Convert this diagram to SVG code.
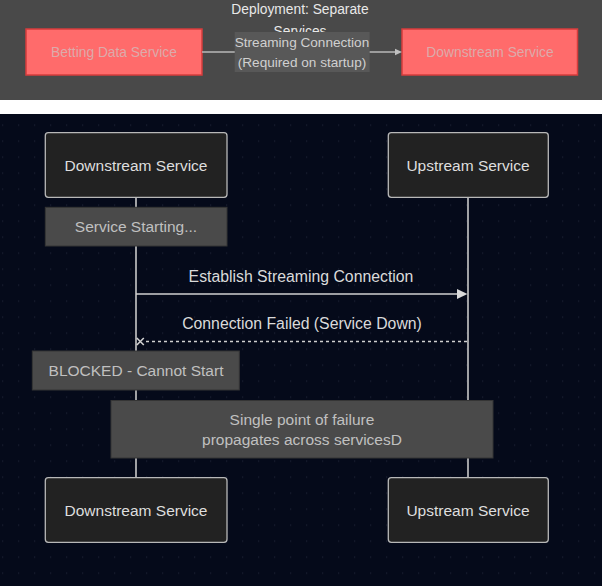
<svg xmlns="http://www.w3.org/2000/svg" width="602" height="586" viewBox="0 0 602 586">
  <defs>
    <style>
      .panel { fill: #494949; }
      .svc { fill: #ff6b6b; stroke: #d63c3c; stroke-width: 1.5; }
      .svc-t { font-family: "Liberation Sans", Arial, sans-serif; font-size: 13.8px; fill: #dcaaaa; text-anchor: middle; }
      .title { font-family: "Liberation Sans", Arial, sans-serif; font-size: 13.8px; fill: #e8e8e8; text-anchor: middle; }
      .elabel-bg { fill: #585858; }
      .elabel { font-family: "Liberation Sans", Arial, sans-serif; font-size: 13.6px; fill: #d0d0d0; text-anchor: middle; }
      .edge { stroke: #b8b8b8; stroke-width: 1.5; fill: none; }
      .actor { fill: #222222; stroke: #b8b8b8; stroke-width: 1.3; }
      .actor-t { font-family: "Liberation Sans", Arial, sans-serif; font-size: 15.5px; fill: #dedede; text-anchor: middle; }
      .note { fill: #4a4a4a; stroke: #353535; stroke-width: 1; }
      .note-t { font-family: "Liberation Sans", Arial, sans-serif; font-size: 15.5px; fill: #c0c0c0; text-anchor: middle; }
      .msg-t { font-family: "Liberation Sans", Arial, sans-serif; font-size: 15.8px; fill: #dadada; text-anchor: middle; }
      .life { stroke: #c8c8c8; stroke-width: 1.6; }
      .msg { stroke: #d0d0d0; stroke-width: 1.6; fill: none; }
    </style>
    <pattern id="dots" x="2" y="12.5" width="16" height="16" patternUnits="userSpaceOnUse">
      <rect x="0" y="0" width="1.2" height="1.2" fill="#1c2233"/>
    </pattern>
    <!-- the wrapped second title line runs under the edge label -->
    <clipPath id="title-clip">
      <rect x="0" y="0" width="602" height="32"/>
    </clipPath>
  </defs>

  <!-- deployment panel -->
  <rect class="panel" x="0" y="0" width="602" height="100"/>
  <rect x="0" y="100" width="602" height="14" fill="#ffffff"/>
  <g id="deploy-title" clip-path="url(#title-clip)">
    <text class="title" x="300" y="13.5">Deployment: Separate</text>
    <text class="title" x="300" y="35.5">Services</text>
  </g>

  <g id="betting-data-service">
    <rect class="svc" x="26" y="29" width="176" height="46"/>
    <text class="svc-t" x="114" y="57">Betting Data Service</text>
  </g>
  <g id="downstream-service-deploy">
    <rect class="svc" x="402" y="29" width="175.5" height="46"/>
    <text class="svc-t" x="490" y="57">Downstream Service</text>
  </g>
  <g id="deploy-connectors">
    <line class="edge" x1="202" y1="52" x2="396" y2="52"/>
    <polygon points="395,48.8 402,52 395,55.2" fill="#c0c0c0"/>
    <rect class="elabel-bg" x="234.7" y="32" width="135" height="40"/>
    <text class="elabel" x="302" y="46.5">Streaming Connection</text>
    <text class="elabel" x="302" y="66.5">(Required on startup)</text>
  </g>

  <!-- sequence panel -->
  <rect x="0" y="114" width="602" height="472" fill="#050a1a"/>
  <rect x="0" y="114" width="602" height="472" fill="url(#dots)"/>

  <g id="lifelines">
    <line class="life" x1="136" y1="197" x2="136" y2="478"/>
    <line class="life" x1="468" y1="197" x2="468" y2="478"/>
  </g>

  <g id="downstream-top">
    <rect class="actor" x="45.3" y="132.7" width="181.7" height="64.6" rx="3"/>
    <text class="actor-t" x="136" y="170.5">Downstream Service</text>
  </g>
  <g id="upstream-top">
    <rect class="actor" x="388.3" y="132.7" width="160" height="64.6" rx="3"/>
    <text class="actor-t" x="468" y="170.5">Upstream Service</text>
  </g>

  <g id="note-starting">
    <rect class="note" x="45.3" y="207.3" width="181.7" height="38.7"/>
    <text class="note-t" x="136" y="232">Service Starting...</text>
  </g>

  <g id="messages">
    <text class="msg-t" x="301" y="281.5">Establish Streaming Connection</text>
    <line class="msg" x1="136" y1="294" x2="458" y2="294"/>
    <polygon points="457,289 467.5,294 457,299" fill="#dadada"/>
    <text class="msg-t" x="302" y="328.5">Connection Failed (Service Down)</text>
    <line class="msg" x1="467" y1="341.5" x2="145" y2="341.5" stroke-dasharray="3,3"/>
    <path class="msg" d="M136.8 338 L143.8 345 M136.8 345 L143.8 338"/>
  </g>

  <g id="note-blocked">
    <rect class="note" x="32.3" y="351" width="207" height="39"/>
    <text class="note-t" x="136" y="376">BLOCKED - Cannot Start</text>
  </g>

  <g id="note-spof">
    <rect class="note" x="111" y="400.5" width="382" height="57.5"/>
    <text class="note-t" x="302" y="425">Single point of failure</text>
    <text class="note-t" x="302" y="444.5">propagates across servicesD</text>
  </g>

  <g id="downstream-bottom">
    <rect class="actor" x="45.3" y="477.7" width="181.7" height="64.6" rx="3"/>
    <text class="actor-t" x="136" y="515.5">Downstream Service</text>
  </g>
  <g id="upstream-bottom">
    <rect class="actor" x="388.3" y="477.7" width="160" height="64.6" rx="3"/>
    <text class="actor-t" x="468" y="515.5">Upstream Service</text>
  </g>
</svg>
